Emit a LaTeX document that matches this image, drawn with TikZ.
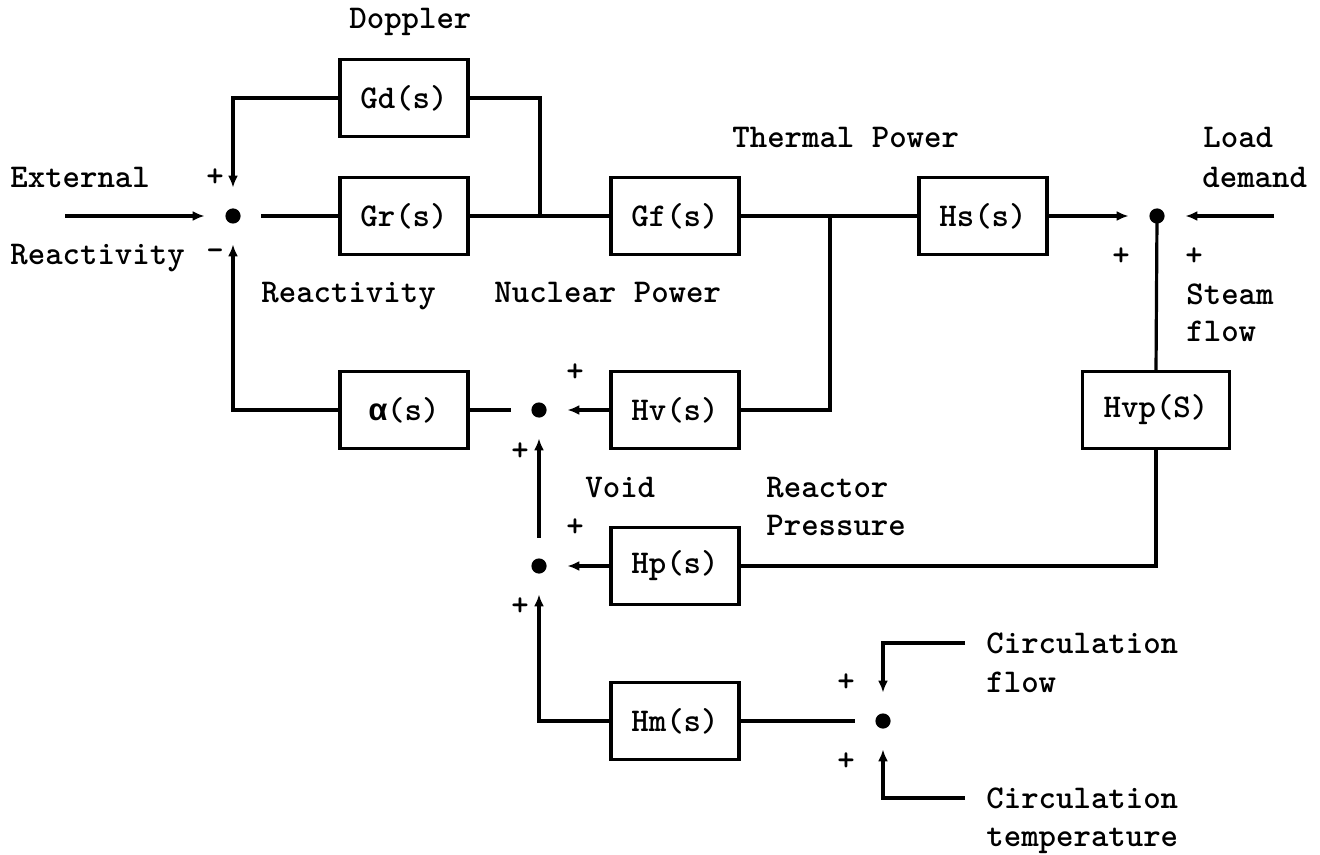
\documentclass[tikz,border=0pt]{standalone}
\usepackage{fontspec}
\newfontfamily\greekmono{Liberation Mono}
\usetikzlibrary{arrows.meta}
\begin{document}
\begin{tikzpicture}[x=0.5pt,y=-0.5pt,
  every node/.style={font=\fontsize{16.6pt}{19pt}\selectfont\ttfamily\bfseries},
  blk/.style={draw, line width=1.6pt, minimum width=64pt, minimum height=38.5pt, inner sep=0pt},
  sum/.style={circle, minimum size=28pt, inner sep=0pt,
    path picture={\fill (path picture bounding box.center) circle (3.8pt);}},
  lbl/.style={anchor=base west, inner sep=0pt},
  sgn/.style={inner sep=0pt},
  wire/.style={line width=1.6pt},
  arr/.style={wire, -{Latex[length=6pt,width=5pt]}},
]
\useasboundingbox (0,0) rectangle (1320,855);

% blocks
\node[blk] (gd) at (404,98) {Gd(s)};
\node[blk] (gr) at (404,216) {Gr(s)};
\node[blk] (gf) at (675,216) {Gf(s)};
\node[blk] (hs) at (983,216) {Hs(s)};
\node[blk] (al) at (404,410) {{\greekmono\fontsize{15.5pt}{19pt}\selectfont α}(s)};
\node[blk] (hv) at (675,410) {Hv(s)};
\node[blk] (hp) at (675,566) {Hp(s)};
\node[blk] (hm) at (675,721) {Hm(s)};
\node[blk, minimum width=73.5pt] (hvp) at (1156,410) {Hvp(S)};

% summing points
\node[sum] (s1) at (233,216) {};
\node[sum] (s2) at (1157,216) {};
\node[sum] (s3) at (539,410) {};
\node[sum] (s4) at (539,566) {};
\node[sum] (s5) at (883,721) {};

% free ends and junctions
\coordinate (in) at (65,216);
\coordinate (ld) at (1274,216);
\coordinate (j1) at (540,216);
\coordinate (j2) at (830,216);
\coordinate (cf) at (965,643);
\coordinate (ct) at (965,798);

% connectors
\draw[arr] (in) -- (s1);
\draw[wire] (s1.east) -- (gr.west);
\draw[arr] (gd.west) -| (s1.north);
\draw[wire] (gd.east) -| (j1);
\draw[wire] (gr.east) -- (gf.west);
\draw[wire] (gf.east) -- (hs.west);
\draw[wire] (j2) |- (hv.east);
\draw[arr] (hs.east) -- (s2.west);
\draw[arr] (ld) -- (s2.east);
\draw[wire] (s2.center) -- (hvp.north);
\draw[wire] (hvp.south) |- (hp.east);
\draw[arr] (hv.west) -- (s3.east);
\draw[wire] (s3.west) -- (al.east);
\draw[arr] (al.west) -| (s1.south);
\draw[arr] (s4.north) -- (s3.south);
\draw[arr] (hp.west) -- (s4.east);
\draw[arr] (hm.west) -| (s4.south);
\draw[wire] (s5.west) -- (hm.east);
\draw[arr] (cf) -| (s5.north);
\draw[arr] (ct) -| (s5.south);

% labels
\node[lbl] (tdop) at (349,29) {Doppler};
\node[lbl] (text) at (10,188) {External};
\node[lbl] (trea) at (10,264) {Reactivity};
\node[lbl] (treb) at (261,302) {Reactivity};
\node[lbl] (tnuc) at (494,302) {Nuclear Power};
\node[lbl] (tthe) at (732,148) {Thermal Power};
\node[lbl] (tloa) at (1203,148) {Load};
\node[lbl] (tdem) at (1202,188) {demand};
\node[lbl] (tste) at (1186,305) {Steam};
\node[lbl] (tflo) at (1186,342) {flow};
\node[lbl] (tvoi) at (585,497) {Void};
\node[lbl] (trct) at (766,497) {Reactor};
\node[lbl] (tpre) at (766,535) {Pressure};
\node[lbl] (tci1) at (986,653) {Circulation};
\node[lbl] (tcfl) at (986,692) {flow};
\node[lbl] (tci2) at (986,808) {Circulation};
\node[lbl] (ttem) at (986,846) {temperature};

% signs
\node[sgn] (p1) at (215,178) {+};
\node[sgn] (m1) at (215,255) {-};
\node[sgn] (p2) at (1121,257) {+};
\node[sgn] (p3) at (1194,257) {+};
\node[sgn] (p4) at (575,373) {+};
\node[sgn] (p5) at (520,452) {+};
\node[sgn] (p6) at (575,528) {+};
\node[sgn] (p7) at (520,607) {+};
\node[sgn] (p8) at (846,683) {+};
\node[sgn] (p9) at (846,762) {+};
\end{tikzpicture}
\end{document}
